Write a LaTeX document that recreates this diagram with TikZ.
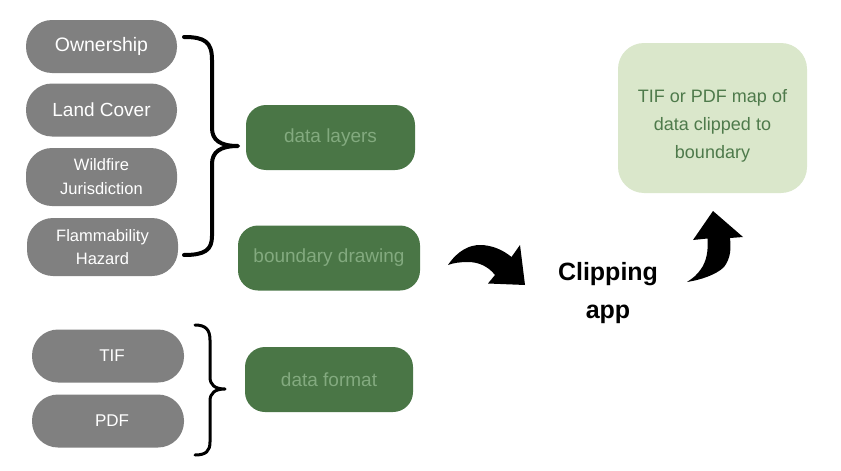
\documentclass[tikz,border=0pt]{standalone}
\usepackage{fontspec}
\setmainfont{Liberation Sans}
\definecolor{pillgray}{HTML}{808080}
\definecolor{darkgreen}{HTML}{4A7646}
\definecolor{greentext}{HTML}{83AA7F}
\definecolor{lightgreen}{HTML}{DAE7CB}
\definecolor{resulttext}{HTML}{4E7A4B}
\tikzset{
  pill/.style={fill=pillgray, text=white, rounded corners=26pt, inner sep=0pt,
    minimum width=151pt, minimum height=53pt, align=center},
  greenbox/.style={fill=darkgreen, text=greentext, rounded corners=20pt, inner sep=0pt,
    minimum height=65pt, font=\fontsize{19}{23}\selectfont},
  bracepath/.style={draw=black, line cap=round, line join=round},
  blockarrow/.style={fill=black, draw=none},
}
\begin{document}
\begin{tikzpicture}[x=1pt,y=-1pt]
\useasboundingbox (0,0) rectangle (841,471);
% gray pills
\node[pill, font=\fontsize{19.5}{23}\selectfont] (own) at (101.5,46.5) {Ownership};
\node[pill, font=\fontsize{19}{23}\selectfont] (land) at (101.5,110) {Land Cover};
\node[pill, minimum height=58pt, font=\fontsize{16.5}{24}\selectfont] (wild) at (101.5,177) {Wildfire\\Jurisdiction};
\node[pill, minimum height=58pt, font=\fontsize{16.5}{23}\selectfont] (flam) at (102.5,247) {Flammability\\Hazard};
\node[pill, minimum width=152pt, font=\fontsize{17}{23}\selectfont] (tif) at (108,356) {\hspace{8pt}TIF};
\node[pill, minimum width=152pt, font=\fontsize{17}{23}\selectfont] (pdf) at (108,421) {\hspace{8pt}PDF};
% green boxes
\node[greenbox, minimum width=169pt] (layers) at (330.5,137.5) {data layers};
\node[greenbox, minimum width=182pt] (bound) at (329,258) {boundary drawing};
\node[greenbox, minimum width=168pt] (format) at (329,379.5) {data format};
% result box
\node[fill=lightgreen, rounded corners=26pt, inner sep=0pt,
  minimum width=189pt, minimum height=150pt] (result) at (712.5,118) {};
\node[text=resulttext, align=center, inner sep=0pt,
  font=\fontsize{18}{28}\selectfont] (resulttxt) at ([yshift=-8pt]result.center) {TIF or PDF map of\\data clipped to\\boundary};
% clipping app
\node[align=center, font=\bfseries\fontsize{25}{38}\selectfont] (clip) at (608,293) {Clipping\\app};
% brace 1
\draw[bracepath, line width=4pt] (184,37) .. controls (205,37) and (212,42) .. (212,60) -- (212,128)
  .. controls (212,140) and (220,146) .. (238,146)
  .. controls (220,146) and (212,152) .. (212,164) -- (212,236)
  .. controls (212,250) and (205,255) .. (184,255);
% brace 2
\draw[bracepath, line width=3pt] (195,325) .. controls (206,325) and (210,330) .. (210,340) -- (210,377)
  .. controls (210,385) and (215,389) .. (225,389)
  .. controls (215,389) and (210,393) .. (210,401) -- (210,442)
  .. controls (210,451) and (206,455) .. (195,455);
% curved arrow 1
\fill[blockarrow] (448,265) .. controls (458,250) and (470,245) .. (480,245)
  .. controls (492,245) and (503,250) .. (511.5,257) -- (520,245) -- (525,285) -- (488,283.5) -- (495,275)
  .. controls (488,266) and (478,262) .. (468,262)
  .. controls (460,262) and (453,263) .. (448,265) -- cycle;
% curved arrow 2
\fill[blockarrow] (687,282) .. controls (700,280) and (716,275) .. (724,267)
  .. controls (731,258) and (731,248) .. (730,238) -- (743,237) -- (713,211) -- (693,240) -- (707.5,238.5)
  .. controls (708.5,252) and (706,262) .. (701,269)
  .. controls (697,275) and (693,278) .. (687,282) -- cycle;
\end{tikzpicture}
\end{document}
